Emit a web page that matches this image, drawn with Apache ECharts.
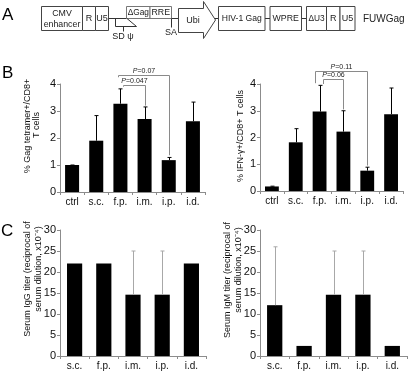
<!DOCTYPE html>
<html>
<head>
<meta charset="utf-8">
<style>
html, body { margin: 0; padding: 0; background: #fff; }
#container { width: 410px; height: 371px; }
</style>
<script src="https://cdn.jsdelivr.net/npm/echarts@6/dist/echarts.min.js"></script>
</head>
<body>
<div id="container"></div>
<script>
// ---- panel B: T cell responses ----
const catsB = ['ctrl', 's.c.', 'f.p.', 'i.m.', 'i.p.', 'i.d.'];
const tetramerMean = [1.0, 1.9, 3.27, 2.7, 1.18, 2.62];
const tetramerErrTop = [1.0, 2.83, 3.82, 3.15, 1.28, 3.33];
const ifnMean = [0.17, 1.82, 2.97, 2.22, 0.76, 2.87];
const ifnErrTop = [0.18, 2.33, 3.95, 3.0, 0.89, 3.85];
const ticksB = [0, 1, 2, 3, 4];

// ---- panel C: serum titers ----
const catsC = ['s.c.', 'f.p.', 'i.m.', 'i.p.', 'i.d.'];
const iggMean = [22, 22, 14.6, 14.6, 22];
const iggErrTop = [null, null, 25, 25, null];
const igmMean = [12.1, 2.4, 14.6, 14.6, 2.4];
const igmErrTop = [26, null, 25, 25, null];
const ticksC = [0, 5, 10, 15, 20, 25, 30];

// significance brackets: [from, to, top, left leg end, right leg end, left leg shift, label]
const tetramerBrackets = [
    [2, 4, 4.35, 4.25, 1.36, -0.12, 'P=0.07'],
    [2, 3, 3.98, 3.9, 3.2, 0.09, 'P=0.047']
];
const ifnBrackets = [
    [2, 4, 4.49, 4.03, 0.95, -0.19, 'P=0.11'],
    [2, 3, 4.18, 4.0, 3.05, 0.13, 'P=0.06']
];

// y axis titles: text, x, y (rotated)
const axisTitles = [
    ['% Gag tetramer+/CD8+', 28, 126],
    ['T cells', 37, 125],
    ['% IFN-\u03b3+/CD8+ T cells', 241, 136],
    ['Serum IgG titer (reciprocal of', 28, 279],
    ['serum dilution, x10\u207b\u2074)', 38.5, 269],
    ['Serum IgM titer (reciprocal of', 228, 280],
    ['serum dilution, x10\u207b\u2074)', 238.5, 270]
];

// ---- panel A: vector map ----
const vectorBoxes = [
    // label, x, y, width, height, font size
    ['CMV\nenhancer', 41.5, 6.5, 41, 24, 8.8],
    ['R', 82.5, 6.5, 13, 24, 9],
    ['U5', 95.5, 6.5, 13, 24, 9],
    ['\u0394Gag', 126.5, 6.5, 23.5, 12, 8.3],
    ['RRE', 150, 6.5, 21.5, 12, 8.8],
    ['HIV-1 Gag', 218.5, 6.5, 46.5, 24, 8.6],
    ['WPRE', 270, 6.5, 31.5, 24, 8.8],
    ['\u0394U3', 306.5, 6.5, 20, 24, 8.3],
    ['R', 326.5, 6.5, 13.5, 24, 9],
    ['U5', 340, 6.5, 15, 24, 9]
];
const vectorName = 'FUWGag';

const FONT = '"Liberation Sans", Arial, sans-serif';
const AXIS_GRAY = '#8c8c8c';

let dom = document.getElementById('container');
let myChart = echarts.init(dom);

function yAxisCfg(gi, ticks) {
    return {
        gridIndex: gi,
        type: 'value',
        min: ticks[0],
        max: ticks[ticks.length - 1],
        interval: ticks[1] - ticks[0],
        axisLine: { show: true, lineStyle: { color: AXIS_GRAY, width: 1 } },
        axisTick: { show: true, length: 3, lineStyle: { color: AXIS_GRAY } },
        axisLabel: { fontSize: 11, color: '#111', margin: 4, fontFamily: FONT },
        splitLine: { show: false }
    };
}

function xAxisCfg(gi, cats) {
    return {
        gridIndex: gi,
        type: 'category',
        data: cats,
        axisLine: { show: true, lineStyle: { color: AXIS_GRAY, width: 1 } },
        axisTick: { show: true, length: 3, lineStyle: { color: AXIS_GRAY } },
        axisLabel: { fontSize: 10, color: '#111', margin: 5, interval: 0, fontFamily: FONT },
        splitLine: { show: false }
    };
}

function barSeries(ai, values, width) {
    return {
        type: 'bar',
        xAxisIndex: ai,
        yAxisIndex: ai,
        data: values,
        barWidth: width,
        itemStyle: { color: '#000' },
        silent: true
    };
}

function errorSeries(ai, means, tops, color) {
    let data = [];
    for (let i = 0; i < means.length; i++) {
        if (tops[i] != null) data.push([i, means[i], tops[i]]);
    }
    return {
        type: 'custom',
        xAxisIndex: ai,
        yAxisIndex: ai,
        silent: true,
        clip: false,
        z: 4,
        data: data,
        encode: { x: 0, y: [1, 2] },
        renderItem: function (params, api) {
            let base = api.coord([api.value(0), api.value(1)]);
            let end = api.coord([api.value(0), api.value(2)]);
            let x = Math.round(base[0]) + 0.5;
            return {
                type: 'group',
                children: [
                    { type: 'line', shape: { x1: x, y1: base[1], x2: x, y2: end[1] }, style: { stroke: color, lineWidth: 1 } },
                    { type: 'line', shape: { x1: x - 2, y1: end[1], x2: x + 2, y2: end[1] }, style: { stroke: color, lineWidth: 1 } }
                ]
            };
        }
    };
}

function bracketSeries(ai, list) {
    return {
        type: 'custom',
        xAxisIndex: ai,
        yAxisIndex: ai,
        silent: true,
        clip: false,
        z: 5,
        data: list.map(b => b.slice(0, 6)),
        encode: { x: 0, y: 2 },
        renderItem: function (params, api) {
            let band = api.size([1, 0])[0];
            let xl = Math.round(api.coord([api.value(0), 0])[0] + api.value(5) * band) + 0.5;
            let xr = Math.round(api.coord([api.value(1), 0])[0]) + 0.5;
            let yt = Math.round(api.coord([0, api.value(2)])[1]) + 0.5;
            let yl = api.coord([0, api.value(3)])[1];
            let yr = api.coord([0, api.value(4)])[1];
            let label = list[params.dataIndex][6];
            return {
                type: 'group',
                children: [
                    {
                        type: 'polyline',
                        shape: { points: [[xl, yl], [xl, yt], [xr, yt], [xr, yr]] },
                        style: { stroke: '#8a8a8a', lineWidth: 1, fill: null }
                    },
                    {
                        type: 'text',
                        x: (xl + xr) / 2,
                        y: yt - 0.5,
                        style: {
                            text: '{i|P}{n|' + label.slice(1) + '}',
                            align: 'center',
                            verticalAlign: 'bottom',
                            fill: '#222',
                            rich: {
                                i: { fontStyle: 'italic', fontSize: 7, fontFamily: FONT, fill: '#222' },
                                n: { fontSize: 7, fontFamily: FONT, fill: '#222' }
                            }
                        }
                    }
                ]
            };
        }
    };
}

// vector map drawn with graphic elements
let graphic = [];
const LINE = '#333';
graphic.push({ type: 'line', shape: { x1: 108.5, y1: 18.5, x2: 306.5, y2: 18.5 }, style: { stroke: LINE, lineWidth: 1 }, z: 1 });
vectorBoxes.forEach(function (b) {
    graphic.push({
        type: 'rect',
        shape: { x: b[1], y: b[2], width: b[3], height: b[4] },
        style: { fill: '#fff', stroke: b[4] < 20 ? '#777' : '#444', lineWidth: 1 },
        z: 2
    });
    graphic.push({
        type: 'text',
        x: b[1] + b[3] / 2,
        y: b[2] + b[4] / 2 + 0.5,
        style: { text: b[0], fontSize: b[5], fontFamily: FONT, fill: '#222', align: 'center', verticalAlign: 'middle', lineHeight: 11 },
        z: 3
    });
});
// SD / psi element
graphic.push({ type: 'polyline', shape: { points: [[115.5, 18.5], [115.5, 26.5], [136.5, 26.5], [127, 18.5]] }, style: { stroke: LINE, lineWidth: 1, fill: null }, z: 2 });
graphic.push({ type: 'line', shape: { x1: 123.5, y1: 26.5, x2: 123.5, y2: 31.5 }, style: { stroke: LINE, lineWidth: 1 }, z: 2 });
graphic.push({ type: 'text', x: 123, y: 37, style: { text: 'SD \u03c8', fontSize: 9, fontFamily: FONT, fill: '#222', align: 'center', verticalAlign: 'middle' }, z: 3 });
// splice acceptor
graphic.push({ type: 'line', shape: { x1: 171.5, y1: 18.5, x2: 171.5, y2: 27.5 }, style: { stroke: LINE, lineWidth: 1 }, z: 3 });
graphic.push({ type: 'text', x: 171, y: 32.5, style: { text: 'SA', fontSize: 9, fontFamily: FONT, fill: '#222', align: 'center', verticalAlign: 'middle' }, z: 3 });
// Ubi promoter arrow
graphic.push({
    type: 'polygon',
    shape: { points: [[178.5, 8.5], [203.5, 8.5], [203.5, 1.5], [215.5, 20], [203.5, 38.5], [203.5, 32.5], [178.5, 32.5]] },
    style: { fill: '#fff', stroke: '#444', lineWidth: 1 },
    z: 2
});
graphic.push({ type: 'text', x: 193, y: 20.5, style: { text: 'Ubi', fontSize: 9, fontFamily: FONT, fill: '#222', align: 'center', verticalAlign: 'middle' }, z: 3 });
graphic.push({ type: 'text', x: 363, y: 19, style: { text: vectorName, fontSize: 10, fontFamily: FONT, fill: '#222', align: 'left', verticalAlign: 'middle' }, z: 3 });

// panel letters
[['A', 2, 15], ['B', 2, 73], ['C', 1, 231]].forEach(function (p) {
    graphic.push({ type: 'text', x: p[1], y: p[2], style: { text: p[0], fontSize: 17, fontFamily: FONT, fill: '#000', align: 'left', verticalAlign: 'middle' }, z: 3 });
});

// rotated y axis titles
axisTitles.forEach(function (t) {
    graphic.push({
        type: 'text', x: t[1], y: t[2], rotation: Math.PI / 2,
        style: { text: t[0], fontSize: 9, fontFamily: FONT, fill: '#111', align: 'center', verticalAlign: 'middle' },
        z: 3
    });
});

let option = {
    animation: false,
    backgroundColor: '#fff',
    textStyle: { fontFamily: FONT },
    grid: [
        { left: 60, top: 84, width: 145, height: 108, outerBoundsMode: 'none', containLabel: false },
        { left: 260, top: 84, width: 143, height: 107, outerBoundsMode: 'none', containLabel: false },
        { left: 60, top: 230, width: 146, height: 126, outerBoundsMode: 'none', containLabel: false },
        { left: 260, top: 230, width: 147, height: 126, outerBoundsMode: 'none', containLabel: false }
    ],
    xAxis: [
        xAxisCfg(0, catsB),
        xAxisCfg(1, catsB),
        xAxisCfg(2, catsC),
        xAxisCfg(3, catsC)
    ],
    yAxis: [
        yAxisCfg(0, ticksB),
        yAxisCfg(1, ticksB),
        yAxisCfg(2, ticksC),
        yAxisCfg(3, ticksC)
    ],
    series: [
        barSeries(0, tetramerMean, '58%'),
        errorSeries(0, tetramerMean, tetramerErrTop, '#000'),
        bracketSeries(0, tetramerBrackets),
        barSeries(1, ifnMean, '58%'),
        errorSeries(1, ifnMean, ifnErrTop, '#000'),
        bracketSeries(1, ifnBrackets),
        barSeries(2, iggMean, '52%'),
        errorSeries(2, iggMean, iggErrTop, '#a8a8a8'),
        barSeries(3, igmMean, '52%'),
        errorSeries(3, igmMean, igmErrTop, '#a8a8a8')
    ],
    graphic: graphic
};
myChart.setOption(option);
</script>
</body>
</html>
